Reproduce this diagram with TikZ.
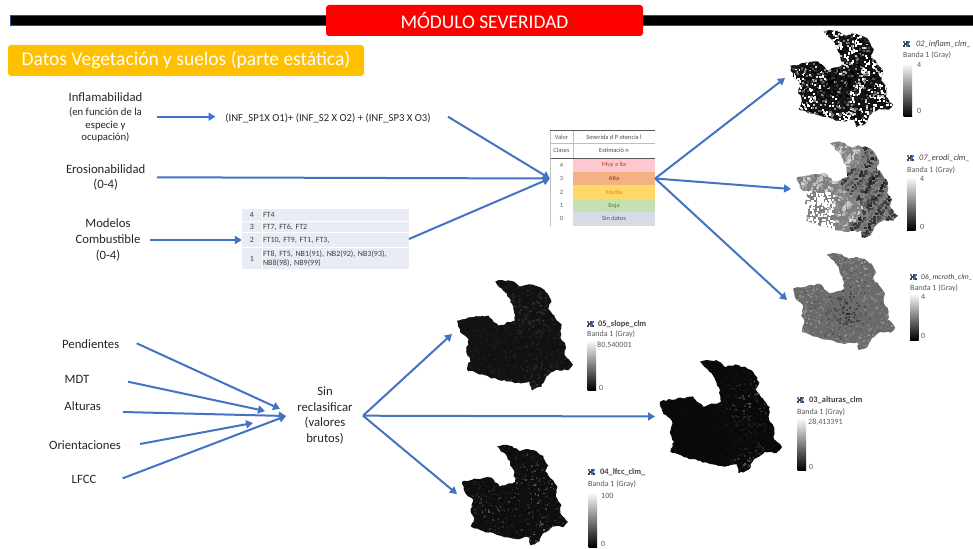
\documentclass[tikz,border=0pt]{standalone}
\usepackage{fontspec}
\setmainfont{Carlito}
\usetikzlibrary{arrows.meta,decorations.pathmorphing}
\definecolor{arrowblue}{HTML}{4472C4}
\definecolor{txt}{HTML}{262626}
\definecolor{lav}{HTML}{E9EBF5}
\definecolor{amber}{HTML}{FFC000}
\definecolor{rowp}{HTML}{FFC7CE}\definecolor{rowo}{HTML}{F4B183}\definecolor{rowy}{HTML}{FFD966}\definecolor{rowg}{HTML}{C5E0B3}\definecolor{rowb}{HTML}{D6DCE4}
\definecolor{tp}{HTML}{C0392B}\definecolor{to}{HTML}{843C0C}\definecolor{ty}{HTML}{ED7D31}\definecolor{tg}{HTML}{548235}\definecolor{tb}{HTML}{44546A}
\tikzset{
  conn/.style={draw=arrowblue,line width=2pt,-{Triangle[length=7pt,width=8pt]}},
  lab/.style={font=\fontsize{12.7}{15.8}\selectfont,text=txt,align=center,inner sep=0pt},
  legt/.style={anchor=west,inner sep=0pt,text=black!75},
  legb/.style={anchor=west,inner sep=0pt,text=black!65,font=\fontsize{8}{9}\selectfont},
  legv/.style={anchor=west,inner sep=0pt,text=black!65,font=\fontsize{8}{9}\selectfont},
  sevcell/.style={inner sep=0pt,font=\fontsize{6.4}{7}\selectfont},
  fuelcell/.style={inner sep=0pt,text=black!75,font=\fontsize{8}{9.5}\selectfont},
  jag/.style={decorate,decoration={random steps,segment length=3pt,amplitude=1pt}},
}
% outline in a 350 x 325 unit box
\def\mapoutline{(115,5) -- (135,0) -- (165,3) -- (190,20) -- (215,13) -- (245,20) -- (268,35) -- (285,65) -- (275,85) -- (295,110) -- (315,135) -- (312,170) -- (328,195) -- (325,222) -- (350,250) -- (335,267) -- (300,265) -- (270,285) -- (255,315) -- (225,325) -- (220,300) -- (175,305) -- (150,300) -- (110,290) -- (70,280) -- (30,265) -- (40,235) -- (28,210) -- (35,175) -- (10,155) -- (0,120) -- (50,110) -- (95,105) -- (125,135) -- (175,120) -- (170,80) -- (150,40) -- cycle}
% \gmap{seed}{x0}{y0}{x1}{y1}{base whiteness}{whiteness expression}{cells}{cell size}
\newcommand{\gmap}[9]{%
  \pgfmathsetmacro{\sx}{(#4-#2)/350}%
  \pgfmathsetmacro{\sy}{(#5-#3)/325}%
  \begin{scope}[shift={(#2,#3)},x=\sx pt,y=-\sy pt]
    \pgfmathsetseed{#1}
    \fill[white!#6!black,jag] \mapoutline;
    \begin{scope}
      \pgfmathsetseed{#1}
      \path[jag,clip] \mapoutline;
      \foreach \k in {1,...,#8}{%
        \pgfmathsetmacro{\mx}{rnd*350}%
        \pgfmathsetmacro{\my}{rnd*325}%
        \pgfmathsetmacro{\mr}{rnd}%
        \pgfmathsetmacro{\mv}{max(0,min(100,#7))}%
        \fill[white!\mv!black] (\mx,\my) rectangle ++(#9,#9);
      }
    \end{scope}
  \end{scope}}
\newcommand{\legicon}[2]{%
  \foreach \a/\b/\c in {0/0/arrowblue,2.6/0/black!75,5.2/0/arrowblue,1.3/2.2/black!75,3.9/2.2/arrowblue,0/4.4/black!75,2.6/4.4/arrowblue,5.2/4.4/black!75}{%
    \fill[\c] (#1+\a,#2-3.3+\b) rectangle ++(2.2,2);}}
\newcommand{\legbar}[3]{%
  \shade[top color=white,bottom color=black,middle color=black!50] (#1,#2) rectangle (#1+8.5,#3);}
\begin{document}
\begin{tikzpicture}[x=1pt,y=-1pt]
\useasboundingbox (0,0) rectangle (973,548);
\fill[white] (0,0) rectangle (973,548);
% header
\fill[black,draw=arrowblue!70!black,line width=.5pt] (10.5,15.5) rectangle (973.5,25.5);
\node[fill=red,rounded corners=3pt,minimum width=317pt,minimum height=31pt,inner sep=0pt,text=white,font=\fontsize{19.4}{21}\selectfont] (title) at (484.5,20.5) {MÓDULO SEVERIDAD};
\node[fill=amber,rounded corners=3pt,minimum width=356pt,minimum height=31pt,inner sep=0pt,text=white,font=\fontsize{19.5}{21}\selectfont] (sub) at (186,60.5) {Datos Vegetación y suelos (parte estática)};
% left labels
\node[lab] (infl) at (105.5,97) {Inflamabilidad};
\node[lab,font=\fontsize{10.7}{12.8}\selectfont] (inflb) at (105.5,125) {(en función de la\\especie y\\ocupación)};
\node[font=\fontsize{10.7}{12}\selectfont,text=txt,inner sep=0pt] (formula) at (328,118) {(INF\_SP1X O1)+ (INF\_S2 X O2) + (INF\_SP3 X O3)};
\node[lab] (eros) at (105.7,177.5) {Erosionabilidad\\(0-4)};
\node[lab,font=\fontsize{12.7}{16}\selectfont] (comb) at (108,240) {Modelos\\Combustible\\(0-4)};
\node[lab] (pend) at (90.7,344) {Pendientes};
\node[lab] (mdt) at (77,379) {MDT};
\node[lab] (alt) at (82.7,406) {Alturas};
\node[lab] (ori) at (85,445) {Orientaciones};
\node[lab] (lfcc) at (84,479) {LFCC};
\node[lab] (sin) at (325,415.5) {Sin\\reclasificar\\(valores\\brutos)};
% fuel table
\foreach \n/\ya/\yb/\v/\t in {a/209/221/4/FT4,b/222/232/3/{FT7, FT6, FT2},c/233/247/2/{FT10, FT9, FT1, FT3,},d/248/269/1/{FT8, FT5, NB1(91), NB2(92), NB3(93),\\NB8(98), NB9(99)}}{
  \pgfmathsetmacro{\ym}{(\ya+\yb)/2}
  \pgfmathsetmacro{\hh}{\yb-\ya}
  \node[fuelcell,fill=lav,minimum width=20pt,minimum height=\hh pt] (fuelv\n) at (252,\ym) {\v};
  \node[fuelcell,fill=lav,minimum width=146pt,minimum height=\hh pt,text width=145pt,align=left] (fuelt\n) at (335.5,\ym) {\t};
}
% severity table
\foreach \n/\ya/\yb/\v/\t/\f/\c in {h/131/143/Valor/{Severida d P otencia l}/white/black!70,
  i/143/158/Clases/{Estimació n}/white/black!70,
  4/158.5/172/4/{Muy a lta}/rowp/tp,
  3/172/185/3/{Alta}/rowo/to,
  2/185/199/2/{Media}/rowy/ty,
  1/199/212/1/{Baja}/rowg/tg,
  0/212/225.5/0/{Sin datos}/rowb/tb}{
  \pgfmathsetmacro{\ym}{(\ya+\yb)/2}
  \pgfmathsetmacro{\hh}{\yb-\ya}
  \node[sevcell,text=black!65,minimum width=23pt,minimum height=\hh pt] (sv\n) at (561.5,\ym) {\v};
  \node[sevcell,fill=\f,text=\c,minimum width=82pt,minimum height=\hh pt] (sc\n) at (614,\ym) {\t};
}
\draw[black!65,line width=.9pt] (svh.north west) -- (sch.north east);
\draw[black!65,line width=.9pt] (svi.south west) -- (sci.south east);
\draw[black!25,line width=.3pt] (svh.north east) -- (svi.south east);
\draw[black!25,line width=.3pt] (svh.south west) -- (sch.south east);
\draw[black!25,line width=.3pt] (svh.north west) -- (sv0.south west);
% maps
\gmap{11}{790}{30}{893}{127}{8}{-15+110*\mr*(0.3+veclen(\mx-160,\my-175)/110)*(1.1+0.5*sin(\mx*5+\my*2)+0.4*sin(\mx*11-\my*7)+0.4*sin(\mx*3-\my*13))}{1500}{7}
\gmap{12}{797}{142}{898}{238}{50}{((\mx<125 && \my>165 && \mr>0.12) ? 100 : ((\mx>185+40*sin(\my*2)) ? 24 : 58) + 14*sin(\mx*7+\my*5) + 14*\mr)}{1700}{8}
\gmap{13}{793}{253}{895}{350}{42}{47+24*(\mr-0.5)-20*exp(-(veclen(\mx-175,\my-190)/65)^2)}{1200}{6}
\gmap{14}{457}{280}{573}{390}{7}{4+8*\mr+8*exp(-(veclen(\mx-230,\my-90)/70)^2)+10*exp(-(veclen(\mx-250,\my-285)/45)^2)}{900}{6}
\gmap{15}{462}{445}{568}{545}{6}{3+\mr*\mr*(10+30*exp(-(veclen(\mx-240,\my-130)/80)^2)+22*exp(-(veclen(\mx-90,\my-210)/70)^2)+42*exp(-(veclen(\mx-260,\my-290)/50)^2))}{1300}{5}
\gmap{16}{660}{360}{782}{473}{4}{2+\mr*(3+32*exp(-(veclen(\mx-255,\my-120)/60)^2)+38*exp(-(veclen(\mx-255,\my-285)/45)^2))}{1200}{5}
% legends
\legicon{903}{44}\node[legt,font=\fontsize{8.4}{9}\itshape\selectfont] (t1) at (916,44) {02\_inflam\_clm\_};
\node[legb] (b1) at (903,55) {Banda 1 (Gray)};\legbar{903.5}{63}{117}\node[legv] (v1) at (917,65) {4};\node[legv] (z1) at (917,111) {0};
\legicon{907}{158}\node[legt,font=\fontsize{8.4}{9}\itshape\selectfont] (t2) at (919,158) {07\_erodi\_clm\_};
\node[legb] (b2) at (907,170) {Banda 1 (Gray)};\legbar{907}{177}{230}\node[legv] (v2) at (920,179) {4};\node[legv] (z2) at (920,227) {0};
\legicon{910}{277}\node[legt,font=\fontsize{7.5}{9}\itshape\selectfont] (t3) at (921,277) {06\_mcroth\_clm\_};
\node[legb] (b3) at (910,288) {Banda 1 (Gray)};\legbar{910}{293}{340}\node[legv] (v3) at (921,297) {4};\node[legv] (z3) at (921,336) {0};
\legicon{587}{324}\node[legt,font=\fontsize{8.4}{9}\bfseries\selectfont] (t4) at (598,324) {05\_slope\_clm};
\node[legb] (b4) at (587,334) {Banda 1 (Gray)};\legbar{587.5}{340}{390}\node[legv] (v4) at (597,345) {80,540001};\node[legv] (z4) at (599,388) {0};
\legicon{588}{472}\node[legt,font=\fontsize{8.4}{9}\bfseries\selectfont] (t5) at (600,472) {04\_lfcc\_clm\_};
\node[legb] (b5) at (588,484) {Banda 1 (Gray)};\legbar{588.5}{492}{547}\node[legv] (v5) at (601,496) {100};\node[legv] (z5) at (601,544) {0};
\legicon{797}{400}\node[legt,font=\fontsize{8.4}{9}\bfseries\selectfont] (t6) at (809,400) {03\_alturas\_clm};
\node[legb] (b6) at (797,412) {Banda 1 (Gray)};\legbar{797.5}{418}{470}\node[legv] (v6) at (808,422) {28,413391};\node[legv] (z6) at (809,467) {0};
% connector ends
\coordinate (inflOut) at (156.6,116.7);
\coordinate (formIn) at (215.5,116.7);
\coordinate (formOut) at (448,116.7);
\coordinate (erosOut) at (157,177.3);
\coordinate (combOut) at (150,240);
\coordinate (fuelOut) at (409,239);
\coordinate (pendOut) at (136.7,343.3);
\coordinate (pendIn) at (280,409);
\coordinate (mdtOut) at (128,381.7);
\coordinate (mdtIn) at (265,411);
\coordinate (altOut) at (123,412);
\coordinate (oriOut) at (140,444);
\coordinate (oriIn) at (253,423);
\coordinate (lfccOut) at (122.7,478.3);
\coordinate (sinIn) at (286,416);
\coordinate (sinOut) at (363,415.7);
\coordinate (mapA) at (785,78);
\coordinate (mapB) at (791,189);
\coordinate (mapC) at (787,300);
\coordinate (mapD) at (452,334);
\coordinate (mapE) at (655,416.5);
\coordinate (mapF) at (457,494);
% connectors
\draw[conn] (inflOut) -- (formIn);
\draw[conn] (formOut) -- (sv3.west);
\draw[conn] (erosOut) -- (sv3.west);
\draw[conn] (combOut) -- (fuelvc.west);
\draw[conn] (fuelOut) -- (sv3.west);
\draw[conn] (sc3.east) -- (mapA);
\draw[conn] (sc3.east) -- (mapB);
\draw[conn] (sc3.east) -- (mapC);
\draw[conn] (pendOut) -- (pendIn);
\draw[conn] (mdtOut) -- (mdtIn);
\draw[conn] (altOut) -- (sinIn);
\draw[conn] (oriOut) -- (oriIn);
\draw[conn] (lfccOut) -- (sinIn);
\draw[conn] (sinOut) -- (mapD);
\draw[conn] (sinOut) -- (mapE);
\draw[conn] (sinOut) -- (mapF);
\end{tikzpicture}
\end{document}
